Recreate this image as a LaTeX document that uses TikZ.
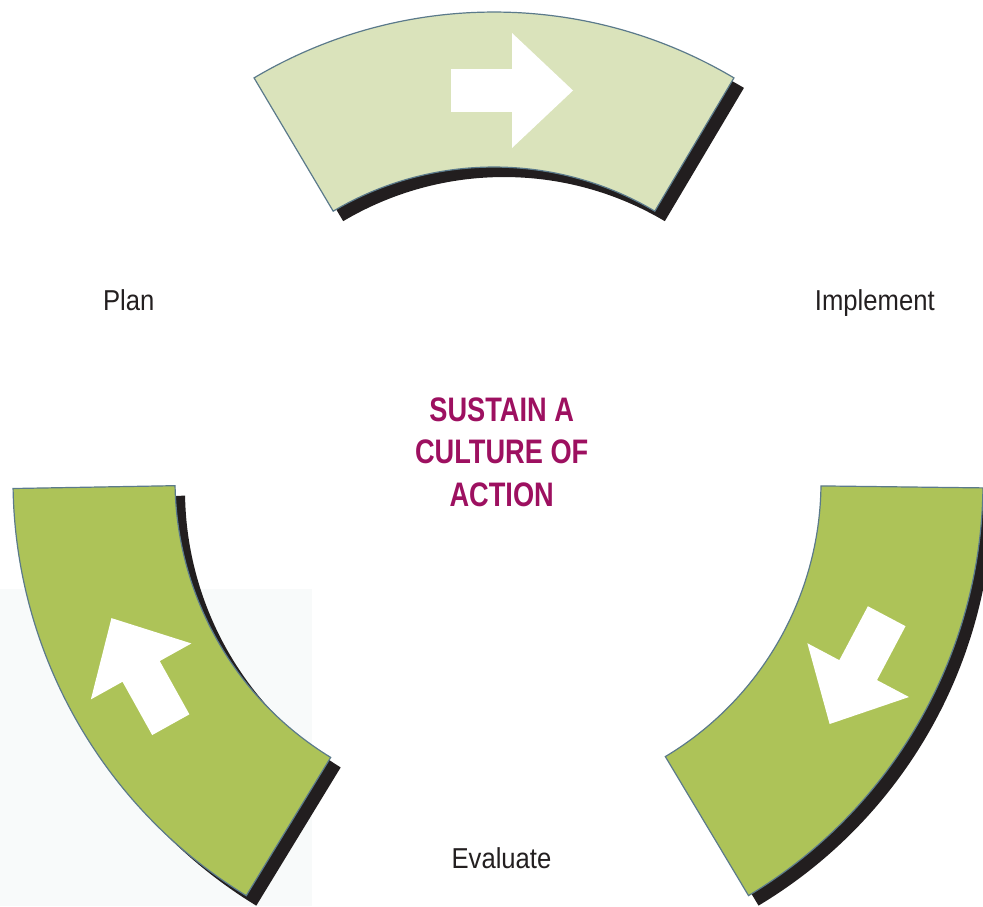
\documentclass[tikz,border=0pt]{standalone}
\usepackage{fontspec}
\setmainfont{Liberation Sans}
\newfontfamily\stagefont[FakeStretch=0.89]{Liberation Sans}
\newfontfamily\hubfont[FakeStretch=0.8]{Liberation Sans}
\usetikzlibrary{positioning}
\definecolor{paleleaf}{HTML}{DAE3BB}
\definecolor{leaf}{HTML}{ADC358}
\definecolor{rim}{HTML}{5B7A8B}
\definecolor{shadowink}{HTML}{221E1F}
\definecolor{plum}{HTML}{9D1060}
\definecolor{inkgray}{HTML}{231F20}
\definecolor{haze}{HTML}{F8FAFA}
% ring segment: start angle, end angle, inner radius, outer radius
\newcommand{\bandpath}[4]{(#1:#4) arc[start angle=#1,end angle=#2,radius=#4]
  -- (#2:#3) arc[start angle=#2,end angle=#1,radius=#3] -- cycle}
\tikzset{
  band/.style={draw=rim,line width=0.6pt},
  bandshadow/.style={fill=shadowink,shift={(10,-10)}},
  turn/.style={fill=white},
  stage/.style={font=\stagefont\fontsize{14.4}{17}\selectfont,text=inkgray,anchor=base},
  hub/.style={font=\hubfont\bfseries\fontsize{17}{21.1}\selectfont,text=plum,align=center},
}

\begin{document}
\begin{tikzpicture}[x=0.5pt,y=0.5pt]
  \useasboundingbox (0,0) rectangle (983,-906);
  \fill[haze] (0,-589) rectangle (312,-906);
  % the three bands of the cycle
  \foreach \cx/\cy/\a/\b/\ri/\ro/\col in {
    494/-482/59.3/120.7/315/470/paleleaf,
    500/-480/181/238.6/325/487/leaf,
    501/-482/-59.1/-0.7/320/482/leaf}
  {
    \begin{scope}[shift={(\cx,\cy)}]
      \fill[bandshadow] \bandpath{\a}{\b}{\ri}{\ro};
      \filldraw[band,fill=\col] \bandpath{\a}{\b}{\ri}{\ro};
    \end{scope}
  }
  % white block arrows, tail centre and heading
  \foreach \x/\y/\r in {451/-90.5/0, 170.8/-724.7/119.1, 886.7/-616.2/-117.9}
    \fill[turn,shift={(\x,\y)},rotate=\r] (0,21.3) -- (61,21.3) -- (61,57.5)
      -- (122,0) -- (61,-57.5) -- (61,-21.3) -- (0,-21.3) -- cycle;

  \node[stage] (plan) at (128.7,-310.7) {Plan};
  \node[stage] (implement) at (874.8,-310.5) {Implement};
  \node[stage] (evaluate) at (501.5,-868.3) {Evaluate};
  \node[hub] (hub) at (501.7,-452.2) {SUSTAIN A\\CULTURE OF\\ACTION};
\end{tikzpicture}
\end{document}
